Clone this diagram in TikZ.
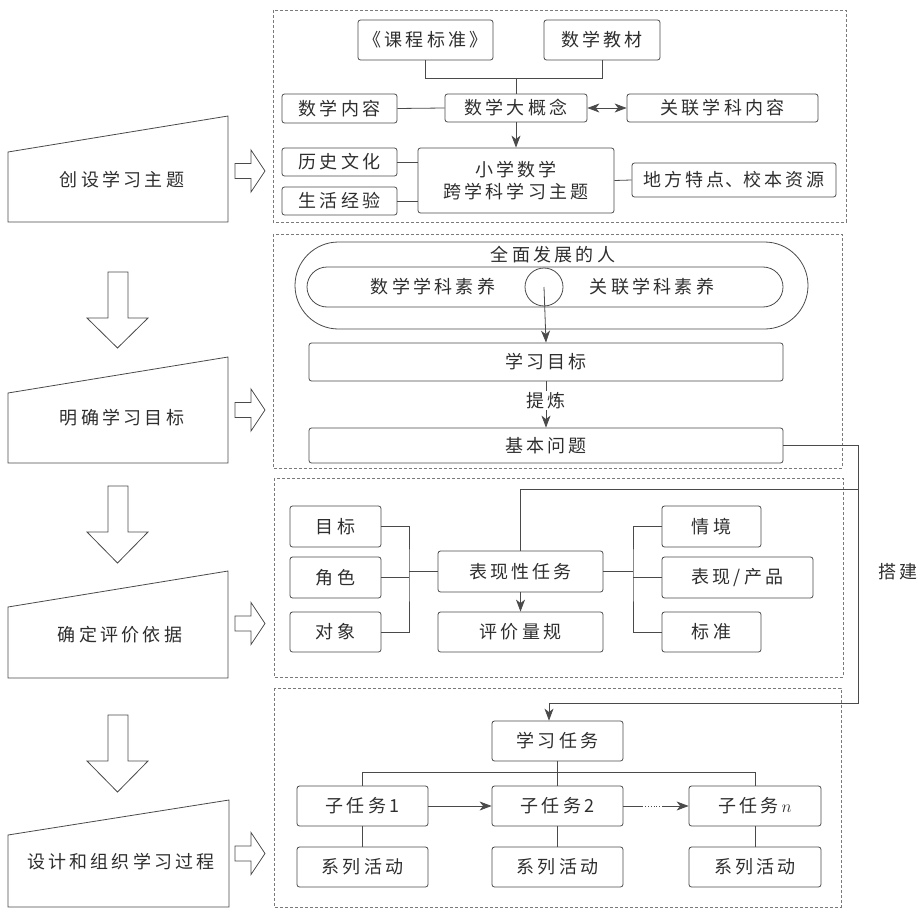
\documentclass[tikz,border=0pt]{standalone}
\usepackage{fontspec}
\setmainfont{Noto Sans CJK SC}[LetterSpace=18]
\usetikzlibrary{arrows.meta}
\definecolor{lc}{HTML}{4A4A4A}
\definecolor{tc}{HTML}{2E2E2E}
\definecolor{dc}{HTML}{7A7A7A}
\begin{document}
\begin{tikzpicture}[x=1pt,y=-1pt,
  font=\fontsize{18}{24}\selectfont,
  every node/.style={text=tc},
  box/.style={draw=lc, line width=0.8pt, rounded corners=2.5pt, inner sep=0pt},
  ln/.style={draw=lc, line width=0.8pt},
  arr/.style={ln, -{Stealth[length=12pt,width=9pt,inset=3.5pt]}},
  darr/.style={ln, {Stealth[length=12pt,width=9pt,inset=3.5pt]}-{Stealth[length=12pt,width=9pt,inset=3.5pt]}},
  dbox/.style={draw=dc, line width=0.6pt, dash pattern=on 3pt off 2pt},
  hol/.style={draw=lc, line width=0.8pt, fill=white}]
\useasboundingbox (0,0) rectangle (923,912);

% ---------- left column ----------
\newcommand{\rarrow}[1]{\draw[hol] (235,#1-7.5) -- (251,#1-7.5) -- (251,#1-21) -- (265,#1) -- (251,#1+21) -- (251,#1+7.5) -- (235,#1+7.5) -- cycle;}
\newcommand{\darrow}[3]{\draw[hol] (108,#1) -- (128,#1) -- (128,#2) -- (148,#2) -- (117.5,#3) -- (87,#2) -- (108,#2) -- cycle;}

\draw[hol] (8,152) -- (228,116) -- (228,222) -- (8,222) -- cycle;
\node (s1) at (122,180) {创设学习主题};
\draw[hol] (8,393) -- (228,357) -- (228,463) -- (8,463) -- cycle;
\node (s2) at (122,418) {明确学习目标};
\draw[hol] (8,607) -- (228,571) -- (228,678) -- (8,678) -- cycle;
\node (s3) at (120,635) {确定评价依据};
\draw[hol] (8,835) -- (229,800) -- (229,907) -- (8,907) -- cycle;
\node (s4) at (121,862) {设计和组织学习过程};

\rarrow{171}
\rarrow{410}
\rarrow{623.5}
\rarrow{853.5}
\darrow{272}{318}{348}
\darrow{486}{532}{563}
\darrow{715}{761}{792}

% ---------- dashed frames ----------
\draw[dbox] (273,10) rectangle (846,222);
\draw[dbox] (273,234) rectangle (842,468);
\draw[dbox] (274,478) rectangle (843,677);
\draw[dbox] (274,688) rectangle (841,907);

% ---------- section 1 ----------
\node[box, minimum width=135pt, minimum height=40pt] (kcbz) at (425.5,40) {《课程标准》};
\node[box, minimum width=116pt, minimum height=40pt] (sxjc) at (602,40) {数学教材};
\node[box, minimum width=142pt, minimum height=28pt] (sxdgn) at (516,108) {数学大概念};
\node[box, minimum width=115pt, minimum height=29pt] (sxnr) at (339.5,108.5) {数学内容};
\node[box, minimum width=191pt, minimum height=28pt] (glxk) at (722.5,108) {关联学科内容};
\node[box, minimum width=196pt, minimum height=65pt, align=center] (zt) at (516,180.5) {小学数学\\[-2pt]跨学科学习主题};
\node[box, minimum width=115pt, minimum height=28pt] (lswh) at (339.5,162) {历史文化};
\node[box, minimum width=115pt, minimum height=28pt] (shjy) at (339.5,201) {生活经验};
\node[box, minimum width=204pt, minimum height=34pt] (dfts) at (734,180) {地方特点{\addfontfeatures{LetterSpace=0}、}校本资源};

\draw[ln] (kcbz.south) -- ++(0,18) -| (sxjc.south);
\draw[ln] (sxdgn.north) -- ++(0,-16);
\draw[ln] (sxnr.east) -- (sxdgn.west);
\draw[darr] (sxdgn.east) -- (glxk.west);
\draw[arr] (sxdgn.south) -- (zt.north);
\draw[ln] (lswh.east) -- (lswh.east -| zt.west);
\draw[ln] (shjy.east) -- (shjy.east -| zt.west);
\draw[ln] (zt.east) -- (dfts.west);

% ---------- section 2 ----------
\draw[ln, rounded corners=43.5pt] (295,242) rectangle (808,329);
\draw[ln, rounded corners=20pt] (307,267) rectangle (783,307);
\node (qm) at (553,255) {全面发展的人};
\node[draw=lc, line width=0.8pt, circle, minimum size=38pt, inner sep=0pt] (c) at (544,287) {};
\node (sxsy) at (433,287) {数学学科素养};
\node (glsy) at (652,287) {关联学科素养};
\node[box, minimum width=474pt, minimum height=38pt] (xxmb) at (546,362) {学习目标};
\node[box, minimum width=474pt, minimum height=35pt] (jbwt) at (546,445.5) {基本问题};
\draw[arr] (c.center) -- (xxmb.north);
\draw[arr] (xxmb.south) -- node[pos=0.42, fill=white, inner sep=1pt] (tl) {提炼} (jbwt.north);

% ---------- section 3 ----------
\node[box, minimum width=91pt, minimum height=41pt] (mb) at (335.5,526.5) {目标};
\node[box, minimum width=91pt, minimum height=41pt] (js) at (335.5,577.5) {角色};
\node[box, minimum width=91pt, minimum height=40pt] (dx) at (335.5,632) {对象};
\node[box, minimum width=165pt, minimum height=41pt] (bx) at (520.5,571.5) {表现性任务};
\node[box, minimum width=165pt, minimum height=40pt] (pj) at (520.5,632) {评价量规};
\node[box, minimum width=99pt, minimum height=41pt] (qj) at (711.5,526.5) {情境};
\node[box, minimum width=151pt, minimum height=41pt] (cp) at (737.5,577.5) {表现/产品};
\node[box, minimum width=99pt, minimum height=40pt] (bz) at (711.5,632) {标准};
\coordinate (bl) at (409,571.5);
\coordinate (br) at (633,571.5);
\draw[ln] (mb.east) -| (bl) |- (dx.east);
\draw[ln] (js.east) -- (js.east -| bl);
\draw[ln] (bl) -- (bx.west);
\draw[ln] (qj.west) -| (br) |- (bz.west);
\draw[ln] (cp.west) -- (cp.west -| br);
\draw[ln] (bx.east) -- (br);
\draw[arr] (bx.south) -- (pj.north);

% ---------- section 4 ----------
\node[box, minimum width=131pt, minimum height=40pt] (xxrw) at (557.5,741) {学习任务};
\node[box, minimum width=131pt, minimum height=40pt] (z1) at (362.5,806) {子任务1};
\node[box, minimum width=131pt, minimum height=40pt] (z2) at (557.5,806) {子任务2};
\node[box, minimum width=132pt, minimum height=40pt] (zn) at (755,806) {子任务\,$n$};
\node[box, minimum width=131pt, minimum height=40pt] (h1) at (362.5,867) {系列活动};
\node[box, minimum width=131pt, minimum height=40pt] (h2) at (557.5,867) {系列活动};
\node[box, minimum width=132pt, minimum height=40pt] (hn) at (755,867) {系列活动};
\draw[ln] (z1.north) -- ++(0,-13) -| (zn.north);
\draw[ln] (xxrw.south) -- (z2.north);
\draw[ln] (z1.south) -- (h1.north);
\draw[ln] (z2.south) -- (h2.north);
\draw[ln] (zn.south) -- (hn.north);
\draw[arr] (z1.east) -- (z2.west);
\draw[ln] (z2.east) -- ++(19,0) coordinate (d1);
\draw[ln, dotted] (d1) -- ++(21,0) coordinate (d2);
\draw[arr] (d2) -- (zn.west);

% ---------- 搭建 connector ----------
\coordinate (t1) at (858,703);
\coordinate (t2) at (858,489);
\draw[arr] (jbwt.east) -| (t1) -| ([xshift=-8.5pt]xxrw.north);
\draw[ln] (bx.north) |- (t2);
\node (dj) at (898,572) {搭建};
\end{tikzpicture}
\end{document}
